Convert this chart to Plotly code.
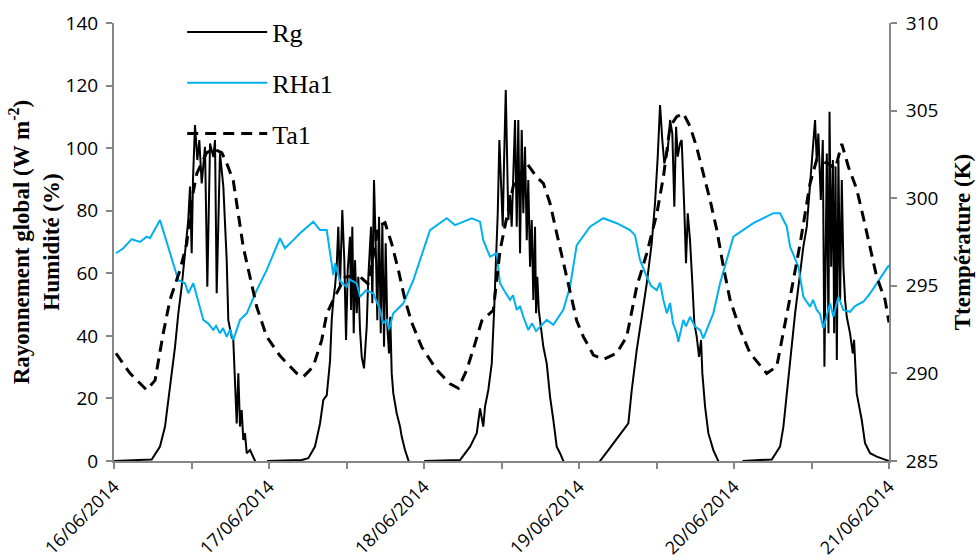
import pandas as pd
import plotly.graph_objects as go

# ---- data (hours since 16/06/2014 00:00) ----
rg_hours = [0, 5.84, 7.12, 7.9, 8.67, 9.45, 9.96, 10.48, 10.99, 11.5, 11.77, 12.03, 12.23, 12.54, 12.9, 13.21,
            13.58, 14.09, 14.45, 14.87, 15.38, 15.64, 15.9, 16.41, 16.93, 17.19, 17.45, 17.7, 18.22, 18.47,
            18.73, 19.0, 19.25, 19.51, 19.77, 20.02, 20.28, 20.55, 21.06, 21.83, 22.3, 23.54, 23.85,
            29.07, 30.09, 31.12, 31.9, 32.41, 32.94, 33.45, 33.71, 33.96, 34.22, 34.48, 34.73, 34.99, 35.35,
            35.66, 35.93, 36.19, 36.54, 36.7, 36.9, 37.12, 37.32, 37.58, 37.83, 38.09, 38.36, 38.71, 39.13,
            39.38, 39.8, 40.0, 40.26, 40.52, 40.77, 41.04, 41.3, 41.55, 41.81, 42.07, 42.32, 42.58, 42.78,
            43.0, 43.25, 43.78, 44.29, 44.55, 45.06, 45.57, 46.1,
            47.85, 48.16, 53.58, 55.13, 56.17, 56.68, 57.18, 57.45, 57.96, 58.49, 58.84, 59.15, 59.42, 59.67,
            59.93, 60.19, 60.39, 60.66, 61.06, 61.32, 61.58, 62.09, 62.36, 62.6, 62.87, 63.13, 63.38, 63.64,
            63.91, 64.15, 64.42, 64.68, 64.93, 65.19, 65.35, 65.55, 65.77, 65.97, 66.48, 67.0, 67.52, 68.03,
            68.55, 69.06, 69.57, 69.99, 74.95,
            75.26, 76.54, 78.09, 79.64, 80.17, 80.94, 81.72, 82.49, 83.26, 83.77, 84.19, 84.55, 84.9, 85.21,
            85.74, 86.1, 86.45, 86.76, 87.03, 87.29, 87.64, 87.9, 88.31, 88.57, 88.84, 89.19, 89.55, 89.86,
            90.23, 90.59, 90.9, 91.1, 91.52, 92.03, 92.8, 93.58, 94.0, 97.09,
            97.45, 101.85, 103.13, 103.65, 104.17, 104.68, 105.46, 106.23, 106.74, 107.27, 107.78, 108.2,
            108.55, 108.81, 109.06, 109.44, 109.75, 110.0, 110.22, 110.37, 110.63, 110.79, 111.05, 111.31,
            111.51, 111.72, 111.92, 112.17, 112.43, 112.69, 112.94, 113.2, 113.46, 113.97, 114.39, 114.59,
            115.0, 115.78, 116.29, 117.07, 118.1, 119.9, 120.0]
rg_values = [0, 0.5, 4.6, 11, 23.7, 36.5, 47.2, 55.7, 66.4, 77, 87.7, 66.4, 90, 107.4, 96.2, 102.6,
             88.7, 100.4, 55.7, 101.5, 97.2, 102.6, 53.6, 98.3, 87.7, 77, 64.2, 45, 39.7, 38.7,
             23.7, 12, 28, 11, 16.3, 6.7, 8.9, 2.5, 3.5, 0, -2, -2, 0,
             0.3, 0.9, 4.6, 12, 19.5, 21, 32, 45, 51.5, 55.7, 62.1, 74.9, 55.7, 80.2,
             64.2, 38.7, 61.0, 71.7, 48.3, 74.9, 40.8, 64.2, 47.2, 58.9, 41.9, 33.3, 29.6, 42.9,
             58.9, 74.9, 50.4, 89.8, 69.6, 45, 78.1, 40.8, 76, 36.5, 69.6, 42.9, 34.4, 46.1,
             28, 21.6, 15.2, 11, 7.8, 3.5, 0.3, -2,
             -1, 0, 0.3, 4.6, 8.9, 16.8, 11, 17.4, 22.7, 31.2, 47.2, 66.4, 79.2, 102.6,
             89.8, 75.0, 95, 118.6, 77, 85, 74.9, 109, 74.9, 109, 66.4, 105.8, 79.2, 100.4,
             70.6, 89.8, 62.1, 77, 51.5, 74.9, 47.2, 58.9, 48.3, 45, 36.5, 31.2, 20.5, 13.1,
             4.6, 2.5, 0, -2, -2,
             0, 3.5, 7.8, 12, 22.7, 35.5, 46.1, 56.8, 69.6, 82.4, 97.3, 113.8, 102.6, 95.1,
             99.4, 109, 104.7, 81.3, 106.8, 97.3, 101.5, 102.6, 80.2, 63.2, 79.2, 70.6, 56.8, 44,
             39.7, 33.3, 38.7, 28, 17.4, 8.9, 3.5, 0, -2, -2,
             0, 0.5, 4.6, 11, 21.6, 32.3, 47.2, 60, 68.5, 74.9, 87.7, 99.4,
             109, 96.2, 104.7, 83.4, 102.6, 30.1, 62.1, 98.3, 40.8, 111.6, 62.1, 96.2,
             40.8, 94.1, 32.3, 96.2, 51.5, 89.8, 62.1, 51.5, 46.1, 40.8, 34.4, 38.7,
             21.6, 13.1, 5.7, 2.5, 1.4, 0, 0]

rh_hours = [0.3, 1.44, 2.74, 4.03, 5.06, 5.57, 7.12, 8.67, 9.96, 10.99, 11.5, 12.28, 13.32, 13.83, 14.56,
            15.38, 15.8, 16.41, 16.88, 17.45, 17.96, 18.47, 19.51, 20.55, 22.1, 23.64, 25.7, 26.48, 27.76,
            28.8, 30.86, 31.9, 32.94, 33.45, 33.96, 34.22, 35.0, 36.03, 36.54, 37.58, 38.09, 39.02, 40.15,
            41.19, 41.66, 42.23, 42.58, 43.25, 44.8, 46.35, 48.93, 51.52, 52.8, 55.39, 56.67, 57.18, 58.22,
            59.26, 59.77, 60.55, 61.32, 61.78, 62.36, 62.87, 63.38, 64.15, 64.73, 65.35, 65.96, 67.0, 68.02,
            69.57, 70.61, 71.65, 73.71, 75.77, 77.84, 79.9, 80.67, 81.45, 82.49, 83.15, 84.04, 84.55, 85.06,
            85.59, 86.1, 86.56, 87.13, 87.38, 88.15, 88.57, 89.19, 89.96, 90.74, 91.25, 91.98, 92.8, 93.84,
            95.9, 99.0, 102.1, 103.13, 104.17, 104.68, 105.97, 106.74, 107.78, 108.24, 108.81, 109.32,
            109.84, 110.88, 111.39, 112.16, 112.93, 113.97, 114.74, 116.03, 117.07, 120.0]
rh_values = [66.4, 68.0, 70.9, 70.0, 71.7, 71.2, 77.0, 66.4, 57.8, 56.8, 53.6, 56.8, 49.3, 45.1, 44.0,
             41.9, 43.2, 40.8, 42.5, 39.7, 42.0, 38.7, 45.1, 47.2, 54.6, 61.0, 71.2, 68.0, 70.6,
             72.8, 76.5, 73.8, 73.8, 66.4, 59.4, 63.2, 57.5, 55.7, 58.0, 56.8, 52.5, 54.5, 53.6,
             48.3, 44.0, 45.1, 42.0, 47.2, 50.4, 57.8, 73.8, 77.6, 75.4, 77.6, 76.5, 70.6, 65.3,
             66.4, 56.8, 54.0, 51.5, 53.0, 48.3, 49.5, 46.1, 41.9, 44.0, 41.5, 42.9, 45.1, 43.5,
             48.3, 55.7, 69.0, 74.9, 77.6, 76.0, 73.8, 72.2, 64.2, 58.9, 56.0, 54.6, 57.0, 51.5,
             47.2, 50.5, 44.0, 40.8, 38.1, 45.1, 43.0, 46.1, 43.0, 41.9, 39.2, 43.0, 47.2, 56.8,
             71.7, 76.0, 79.2, 79.2, 74.9, 68.5, 62.1, 52.5, 49.3, 51.5, 48.3, 47.0,
             42.4, 50.4, 46.1, 52.5, 48.3, 47.7, 49.5, 50.9, 53.6, 62.6]

ta_hours = [0.31, 2.48, 5.06, 6.35, 7.63, 8.67, 10.22, 11.26, 12.03, 12.81, 14.35, 15.49, 16.68, 17.45,
            18.47, 19.25, 20.02, 21.06, 22.1, 23.64, 25.7, 28.29, 29.31, 30.86, 32.16, 32.94, 33.96, 35.77,
            37.83, 39.38, 40.93, 41.97, 43.0, 44.03, 45.06, 46.1, 47.65, 49.97, 52.03, 53.32, 54.62, 55.9,
            56.94, 58.73, 59.77, 60.81, 61.83, 63.91, 65.45, 66.48, 67.52, 68.55, 69.57, 70.61, 71.65,
            72.67, 74.22, 75.77, 77.84, 79.39, 79.9, 80.94, 82.49, 84.04, 85.06, 86.1, 87.13, 88.15, 89.19,
            90.23, 91.25, 92.29, 93.33, 94.35, 95.39, 96.94, 98.49, 101.07, 102.62, 103.65, 104.95, 106.24,
            107.78, 108.81, 110.4, 111.7, 112.69, 113.71, 115.01, 116.03, 117.07, 118.1, 119.39, 120.0]
ta_values = [291.15, 290.0, 289.05, 289.6, 292.3, 294.2, 295.9, 297.4, 299.9, 301.4, 302.6, 302.8, 302.6, 302.0,
             301.0, 299.1, 297.2, 295.5, 293.8, 292.1, 291.0, 290.0, 289.8, 290.4, 291.9, 293.4, 294.2, 295.5,
             295.6, 295.1, 298.4, 298.6, 297.4, 295.9, 294.2, 292.9, 291.5, 290.2, 289.4, 289.15, 290.2, 291.7,
             293.0, 293.6, 297.0, 298.9, 300.7, 302.0, 301.2, 300.85, 299.7, 298.0, 296.3, 294.6, 293.0,
             292.1, 291.05, 290.8, 291.15, 292.1, 293.0, 294.95, 296.85, 299.1, 301.2, 304.1, 304.65, 304.85, 304.1,
             302.9, 301.4, 299.9, 298.2, 296.1, 294.2, 292.5, 291.15, 290.0, 290.4, 292.3, 294.85, 297.4,
             300.85, 302.2, 302.0, 301.7, 303.1, 301.8, 300.5, 298.9, 297.2, 295.5, 294.2, 292.9]

start = pd.Timestamp("2014-06-16 00:00")
def to_time(hours):
    return [start + pd.Timedelta(hours=h) for h in hours]

fig = go.Figure()
fig.add_trace(go.Scatter(x=to_time(rg_hours), y=rg_values, name="Rg", mode="lines",
                         line=dict(color="black", width=2), legendgroup="a"))
fig.add_trace(go.Scatter(x=to_time(rh_hours), y=rh_values, name="RHa1", mode="lines",
                         line=dict(color="#00B0F0", width=2), legendgroup="b"))
fig.add_trace(go.Scatter(x=to_time(ta_hours), y=ta_values, name="Ta1", mode="lines", yaxis="y2",
                         line=dict(color="black", width=3, dash="11px,7px"), legendgroup="c"))

axis_color = "#868686"
tick_font = dict(family="Open Sans", size=19, color="black")
xtick_font = dict(family="Open Sans", size=18, color="black")
title_font = dict(family="Liberation Serif", size=23, color="black")

fig.update_layout(
    width=979, height=560,
    margin=dict(l=114, r=90, t=23, b=99, autoexpand=False),
    paper_bgcolor="white", plot_bgcolor="white",
    showlegend=True,
    legend=dict(x=0.088, y=1.033, xanchor="left", yanchor="top",
                font=dict(family="Liberation Serif", size=26, color="black"),
                traceorder="grouped", tracegroupgap=14, itemwidth=80,
                bgcolor="rgba(0,0,0,0)"),
    xaxis=dict(range=[start, start + pd.Timedelta(days=5)], type="date",
               tickformat="%d/%m/%Y", dtick=86400000, tick0=start,
               tickangle=-45, tickfont=xtick_font,
               showline=True, linecolor=axis_color, linewidth=2,
               ticks="outside", ticklen=6, tickcolor=axis_color, tickwidth=1.5,
               minor=dict(dtick=43200000, ticks="outside", ticklen=6, tickcolor=axis_color, tickwidth=1.5),
               showgrid=False, zeroline=False, layer="below traces"),
    yaxis=dict(range=[0, 140], dtick=20, tickfont=tick_font, ticklabelstandoff=4,
               showline=True, linecolor=axis_color, linewidth=2,
               ticks="outside", ticklen=6, tickcolor=axis_color, tickwidth=1.5,
               showgrid=False, zeroline=False, layer="below traces",
               title=dict(text="<b>Rayonnement global (W m<sup>-2</sup>)<br>Humidité (%)</b>",
                          font=title_font, standoff=0)),
    yaxis2=dict(range=[285, 310], dtick=5, tickfont=tick_font, overlaying="y", side="right",
                ticklabelstandoff=5,
                showline=True, linecolor=axis_color, linewidth=2,
                ticks="outside", ticklen=6, tickcolor=axis_color, tickwidth=1.5,
                showgrid=False, zeroline=False,
                title=dict(text="<b>Ttempérature (K)</b>", font=title_font, standoff=17)),
)

fig.write_html("out.html", config={"displayModeBar": False},
               post_script="document.body.style.margin='0';document.body.style.overflow='hidden';")
